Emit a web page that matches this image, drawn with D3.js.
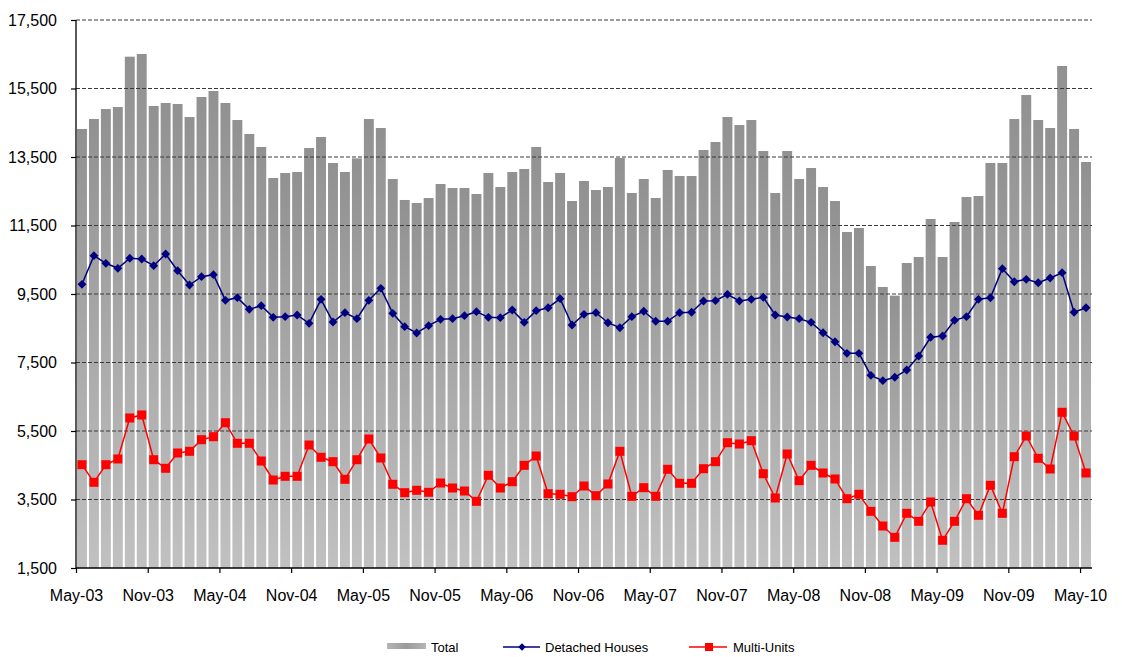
<!DOCTYPE html>
<html lang="en">
<head>
<meta charset="utf-8"/>
<title>Dwelling starts - Total, Detached Houses, Multi-Units</title>
<script src="https://d3js.org/d3.v7.min.js"></script>
<style>
    body { margin: 0; background: #fff; }
    text { font-family: "Liberation Sans", Arial, sans-serif; }
</style>
</head>
<body>
<script>
// monthly values, May-03 .. May-10 (85 months)
var totalValues = [14318,14610,14901,14960,16429,16507,14989,15077,15047,14668,
    15252,15427,15077,14580,14172,13792,12887,13033,13062,13763,
    14084,13325,13062,13460,14609,14347,12858,12245,12157,12303,
    12712,12595,12595,12420,13033,12624,13062,13150,13792,12770,
    13033,12215,12799,12536,12624,13471,12449,12858,12303,13121,
    12945,12945,13704,13938,14668,14434,14580,13675,12449,13675,
    12858,13179,12624,12215,11310,11427,10318,9704,9451,10405,
    10580,11690,10580,11602,12332,12361,13325,13325,14609,15310,
    14580,14347,16157,14318,13354];

var detachedValues = [9783,10619,10396,10250,10543,10522,10327,10668,10181,9763,
    10006,10064,9315,9393,9052,9159,8819,8838,8887,8644,
    9345,8682,8955,8780,9315,9666,8936,8546,8361,8575,
    8761,8780,8867,8984,8819,8809,9033,8673,9013,9100,
    9363,8595,8907,8955,8662,8516,8838,8995,8703,8703,
    8955,8966,9296,9305,9491,9296,9345,9404,8887,8829,
    8780,8673,8370,8107,7768,7768,7126,6969,7068,7281,
    7690,8236,8274,8732,8838,9345,9392,10239,9859,9929,
    9830,9967,10122,8966,9100];

var multiValues = [4516,4002,4516,4683,5880,5967,4662,4411,4858,4907,
    5246,5334,5742,5141,5141,4624,4069,4177,4177,5091,
    4732,4604,4090,4662,5266,4712,3944,3699,3769,3710,
    3982,3836,3748,3447,4207,3836,4020,4498,4770,3669,
    3652,3582,3894,3611,3953,4907,3593,3845,3593,4382,
    3973,3973,4399,4604,5158,5120,5217,4253,3544,4828,
    4049,4498,4274,4099,3523,3652,3155,2726,2396,3097,
    2863,3427,2309,2863,3523,3039,3915,3097,4750,5354,
    4703,4391,6046,5354,4274];

// categories: one per month
var months = d3.timeMonth.range(new Date(2003, 4, 1), new Date(2010, 5, 1));

var tickLabels = ["May-03","Nov-03","May-04","Nov-04","May-05","Nov-05","May-06","Nov-06",
    "May-07","Nov-07","May-08","Nov-08","May-09","Nov-09","May-10"];

var yTicks = [1500,3500,5500,7500,9500,11500,13500,15500,17500];

var seriesNames = ["Total","Detached Houses","Multi-Units"];

// sizes (plotTop, not top - window.top is taken)
var w = 1122;
var h = 657;
var plotLeft = 76, plotRight = 1092, plotTop = 20, plotBottom = 568;

var xScale = d3.scaleBand()
    .domain(months.map(function(d, i) { return i; }))
    .range([plotLeft, plotRight])
    .paddingInner(0.17)
    .paddingOuter(0.085);

var yScale = d3.scaleLinear()
    .domain([1500, 17500])
    .range([plotBottom, plotTop]);

var svg = d3.select("body")
    .append("svg")
    .attr("width", w)
    .attr("height", h);

// gradient for the bars
var defs = svg.append("defs");
var grad = defs.append("linearGradient")
    .attr("id", "barGrad")
    .attr("x1", 0).attr("y1", 0)
    .attr("x2", 0).attr("y2", 1);
grad.append("stop").attr("offset", "0%").attr("stop-color", "#919191");
grad.append("stop").attr("offset", "100%").attr("stop-color", "#c1c1c1");

var gradH = defs.append("linearGradient")
    .attr("id", "legGrad")
    .attr("x1", 0).attr("y1", 0)
    .attr("x2", 1).attr("y2", 0);
gradH.append("stop").attr("offset", "0%").attr("stop-color", "#b5b5b5");
gradH.append("stop").attr("offset", "50%").attr("stop-color", "#9a9a9a");
gradH.append("stop").attr("offset", "100%").attr("stop-color", "#b5b5b5");

// bars (Total)
svg.append("g")
    .selectAll("rect")
    .data(totalValues)
    .enter()
    .append("rect")
    .attr("x", function(d, i) { return xScale(i); })
    .attr("y", function(d) { return yScale(d); })
    .attr("width", xScale.bandwidth())
    .attr("height", function(d) { return yScale(1500) - yScale(d); })
    .style("fill", "url(#barGrad)");

// dashed gridlines
svg.append("g")
    .selectAll("line")
    .data(yTicks.slice(1))
    .enter()
    .append("line")
    .attr("x1", plotLeft)
    .attr("x2", plotRight)
    .attr("y1", function(d) { return yScale(d); })
    .attr("y2", function(d) { return yScale(d); })
    .style("stroke", "#3a3a3a")
    .style("stroke-width", 1)
    .style("stroke-dasharray", "4,2");

// y axis
var yAxis = svg.append("g")
    .attr("transform", "translate(" + plotLeft + ",0)")
    .call(d3.axisLeft(yScale).tickValues(yTicks).tickFormat(d3.format(",")).tickSize(5).tickPadding(14));

// x axis, tick at the left edge of every 6th month
var xTickScale = d3.scaleLinear()
    .domain([0, months.length])
    .range([plotLeft, plotRight]);

var tickIdx = d3.range(0, months.length, 6);

var xAxis = svg.append("g")
    .attr("transform", "translate(0," + plotBottom + ")")
    .call(d3.axisBottom(xTickScale).tickValues(tickIdx)
        .tickFormat(function(d, i) { return tickLabels[i]; })
        .tickSize(5).tickPadding(17));

// axis styling
svg.selectAll(".domain").style("stroke", "#000").style("stroke-width", 1.3);
svg.selectAll(".tick line").style("stroke", "#000").style("stroke-width", 1.2);
yAxis.select(".domain").attr("d", "M0," + plotTop + "V" + plotBottom);
xAxis.select(".domain").attr("d", "M" + plotLeft + ",0H" + plotRight);
svg.selectAll(".tick text")
    .style("font-family", "'Liberation Sans', Arial, sans-serif")
    .style("font-size", "16px")
    .style("fill", "#000");

// line generators
var cx = function(i) { return xScale(i) + xScale.bandwidth() / 2; };

var seriesLine = d3.line()
    .x(function(d, i) { return cx(i); })
    .y(function(d) { return yScale(d); });

svg.append("path")
    .datum(detachedValues)
    .attr("d", seriesLine)
    .style("fill", "none")
    .style("stroke", "#000080")
    .style("stroke-width", 1.5);

svg.append("path")
    .datum(multiValues)
    .attr("d", seriesLine)
    .style("fill", "none")
    .style("stroke", "#ff0000")
    .style("stroke-width", 1.5);

// diamond markers
var diamond = d3.symbol().type(d3.symbolDiamond2).size(50);
svg.append("g")
    .selectAll("path")
    .data(detachedValues)
    .enter()
    .append("path")
    .attr("d", diamond)
    .attr("transform", function(d, i) { return "translate(" + cx(i) + "," + yScale(d) + ")"; })
    .style("fill", "#000080");

// square markers
svg.append("g")
    .selectAll("rect")
    .data(multiValues)
    .enter()
    .append("rect")
    .attr("x", function(d, i) { return cx(i) - 4.5; })
    .attr("y", function(d) { return yScale(d) - 4.5; })
    .attr("width", 9)
    .attr("height", 9)
    .style("fill", "#ff0000");

// legend
var legY = 647;
var leg = svg.append("g");

leg.append("rect")
    .attr("x", 387).attr("y", legY - 4)
    .attr("width", 39).attr("height", 6)
    .style("fill", "url(#legGrad)");
leg.append("text")
    .attr("x", 431).attr("y", legY + 5)
    .style("font-size", "13px")
    .text(seriesNames[0]);

leg.append("line")
    .attr("x1", 503).attr("x2", 540)
    .attr("y1", legY).attr("y2", legY)
    .style("stroke", "#000080").style("stroke-width", 1.5);
leg.append("path")
    .attr("d", d3.symbol().type(d3.symbolDiamond2).size(36))
    .attr("transform", "translate(522," + legY + ")")
    .style("fill", "#000080");
leg.append("text")
    .attr("x", 545).attr("y", legY + 5)
    .style("font-size", "13px")
    .text(seriesNames[1]);

leg.append("line")
    .attr("x1", 689).attr("x2", 727)
    .attr("y1", legY).attr("y2", legY)
    .style("stroke", "#ff0000").style("stroke-width", 1.5);
leg.append("rect")
    .attr("x", 705).attr("y", legY - 4)
    .attr("width", 8).attr("height", 8)
    .style("fill", "#ff0000");
leg.append("text")
    .attr("x", 733).attr("y", legY + 5)
    .style("font-size", "13px")
    .text(seriesNames[2]);
</script>
</body>
</html>
